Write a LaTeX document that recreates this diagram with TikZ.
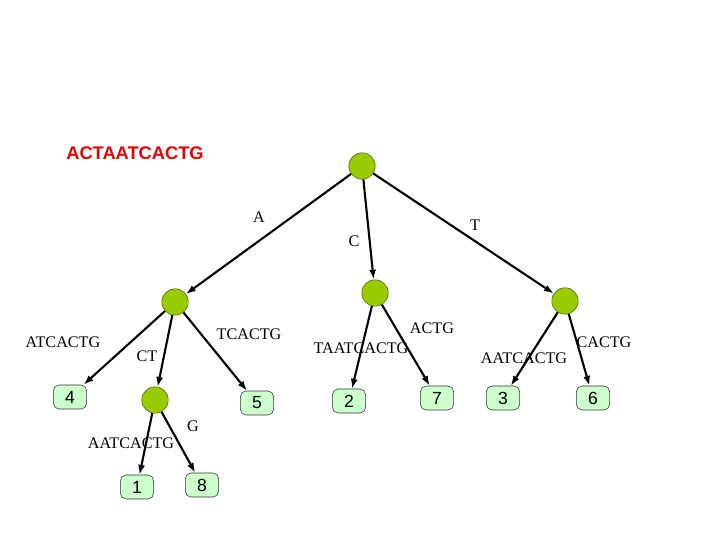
\documentclass[tikz,border=0pt]{standalone}
\usepackage{fontspec}
\setmainfont{Liberation Serif}
\newfontfamily\arialfont{Liberation Sans}
\usetikzlibrary{arrows.meta}
\definecolor{inner}{RGB}{153,204,0}
\definecolor{innerline}{RGB}{80,100,0}
\definecolor{leaffill}{RGB}{204,255,204}
\definecolor{titlered}{RGB}{230,0,0}
\tikzset{
    inode/.style={circle, draw=innerline, fill=inner, minimum size=0.66cm, inner sep=0pt},
    leaf/.style={rectangle, rounded corners=4pt, draw=black!80, fill=leaffill, minimum width=0.83cm, minimum height=0.6cm, inner sep=0pt, font=\arialfont\fontsize{12.5}{14}\selectfont},
    lbl/.style={inner sep=0pt, font=\fontsize{11.5}{13}\selectfont},
    edge/.style={-{Latex[length=7pt,width=5pt]}, line width=1.5pt}
}
\begin{document}
\begin{tikzpicture}[>=latex]
\useasboundingbox (0,0) rectangle (18,13.5);
    \node[inner sep=0pt, text=titlered, font=\arialfont\bfseries\fontsize{13}{15}\selectfont] (title) at (3.375,9.675) {ACTAATCACTG};
    % inner nodes
    \node[inode] (root) at (9.05,9.35) {};
    \node[inode] (nA) at (4.375,5.95) {};
    \node[inode] (nC) at (9.375,6.175) {};
    \node[inode] (nT) at (14.125,5.975) {};
    \node[inode] (nCT) at (3.875,3.5) {};
    % leaves
    \node[leaf] (l4) at (1.75,3.575) {4};
    \node[leaf] (l5) at (6.425,3.425) {5};
    \node[leaf] (l2) at (8.725,3.475) {2};
    \node[leaf] (l7) at (10.925,3.55) {7};
    \node[leaf] (l3) at (12.575,3.55) {3};
    \node[leaf] (l6) at (14.825,3.55) {6};
    \node[leaf] (l1) at (3.425,1.325) {1};
    \node[leaf] (l8) at (5.05,1.375) {8};
    % edges
    \foreach \a/\b in {root/nA, root/nC, root/nT, nA/l4, nA/nCT, nA/l5,
                       nCT/l1, nCT/l8, nC/l2, nC/l7, nT/l3, nT/l6} {
        \draw[edge] (\a) -- (\b);
    }
    % edge labels
    \node[lbl] (eA) at (6.475,8.075) {A};
    \node[lbl] (eT) at (11.875,7.875) {T};
    \node[lbl] (eC) at (8.85,7.475) {C};
    \node[lbl] (e4) at (1.575,4.95) {ATCACTG};
    \node[lbl] (eCT) at (3.675,4.6) {CT};
    \node[lbl] (e5) at (6.225,5.15) {TCACTG};
    \node[lbl] (e1) at (3.275,2.425) {AATCACTG};
    \node[lbl] (e8) at (4.825,2.85) {G};
    \node[lbl] (e2) at (9.025,4.8) {TAATCACTG};
    \node[lbl] (e7) at (10.8,5.3) {ACTG};
    \node[lbl] (e3) at (13.1,4.55) {AATCACTG};
    \node[lbl] (e6) at (15.1,4.95) {CACTG};
\end{tikzpicture}
\end{document}
